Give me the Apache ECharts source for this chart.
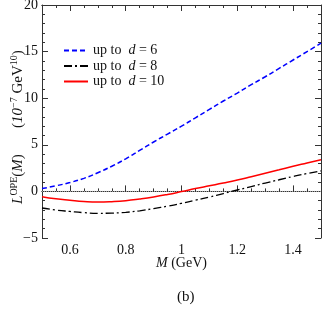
<!DOCTYPE html>
<html><head><meta charset="utf-8">
<script src="https://cdn.jsdelivr.net/npm/echarts@6/dist/echarts.min.js"></script>
<style>html,body{margin:0;padding:0;background:#fff}#c{width:326px;height:315px}</style>
</head><body><div id="c"></div>
<script>
const M = [0.5,0.55,0.6,0.65,0.7,0.75,0.8,0.85,0.9,0.95,1.0,1.05,1.1,1.15,1.2,1.25,1.3,1.35,1.4,1.45,1.5];
const upToD6 = [0.3,0.6,0.95,1.4,2.0,2.7,3.5,4.4,5.3,6.15,7.0,7.9,8.8,9.7,10.55,11.45,12.3,13.2,14.1,15.0,15.9];
const upToD8 = [-1.78,-2.0,-2.15,-2.28,-2.35,-2.33,-2.25,-2.08,-1.85,-1.58,-1.28,-0.95,-0.6,-0.23,0.15,0.52,0.9,1.25,1.6,1.92,2.2];
const upToD10 = [-0.57,-0.8,-0.95,-1.08,-1.14,-1.1,-1.0,-0.82,-0.6,-0.33,-0.02,0.3,0.6,0.9,1.22,1.58,1.95,2.32,2.7,3.05,3.4];
const seriesNames = ['up to d = 6','up to d = 8','up to d = 10'];
const xMajorTicks = [0.6,0.8,1.0,1.2,1.4];
const xRange = [0.5,1.5];
const yRange = [-5,20];
const zeroLine = [[0.5,0],[1.5,0]];

const font = '"Liberation Serif","DejaVu Serif",serif';
const zip = (xs, ys) => xs.map((x,i)=>[x,ys[i]]);
const axColor = '#333';

const xBase = {type:'value', min:xRange[0], max:xRange[1], splitLine:{show:false},
  axisLine:{show:true, lineStyle:{color:axColor,width:1}}};
const chart = echarts.init(document.getElementById('c'));
chart.setOption({
  animation:false,
  backgroundColor:'#fff',
  grid:{left:42,right:5,top:5,bottom:77,containLabel:false,outerBoundsMode:'none'},
  title:{text:'(b)', left:172, top:285, textStyle:{fontFamily:font,fontSize:15,fontWeight:'normal',color:'#111'}},
  legend:{
    left:58, top:38, orient:'vertical', itemWidth:24, itemHeight:10, itemGap:0.5,
    data:seriesNames,
    itemStyle:{opacity:0},
    formatter: n => { const p=n.split(' = '); return '{t|up to  }{i|d}{t| = '+p[1]+'}'; },
    textStyle:{fontFamily:font,fontSize:14,color:'#111',lineHeight:15,
      rich:{t:{fontFamily:font,fontSize:14,color:'#111',lineHeight:15}, i:{fontFamily:font,fontSize:14,fontStyle:'italic',color:'#111',lineHeight:15}}}
  },
  xAxis:[
    Object.assign({}, xBase, {position:'bottom', interval:0.05,
      axisTick:{show:true,inside:true,length:3,lineStyle:{color:axColor}}, axisLabel:{show:false}}),
    Object.assign({}, xBase, {position:'bottom',
      axisTick:{show:true,inside:true,length:6,customValues:xMajorTicks,lineStyle:{color:axColor}},
      axisLabel:{show:true,customValues:xMajorTicks,margin:5,fontFamily:font,fontSize:14,color:'#111',formatter:v=>String(+v.toFixed(1))},
      name:'{i|M} (GeV)', nameLocation:'middle', nameGap:18, nameMoveOverlap:false,
      nameTextStyle:{fontFamily:font,fontSize:14,color:'#111',rich:{i:{fontFamily:font,fontSize:14,fontStyle:'italic',color:'#111'}}}}),
    Object.assign({}, xBase, {position:'top', interval:0.05,
      axisTick:{show:true,inside:true,length:3,lineStyle:{color:axColor}}, axisLabel:{show:false}}),
    Object.assign({}, xBase, {position:'top',
      axisTick:{show:true,inside:true,length:6,customValues:xMajorTicks,lineStyle:{color:axColor}},
      axisLabel:{show:false}})
  ],
  yAxis:[
    {type:'value', min:yRange[0], max:yRange[1], interval:5, position:'left', splitLine:{show:false},
      axisLine:{show:true,lineStyle:{color:axColor}},
      axisTick:{show:true,inside:true,length:6,lineStyle:{color:axColor}},
      minorTick:{show:true,splitNumber:5,length:3,lineStyle:{color:axColor}},
      axisLabel:{margin:4,fontFamily:font,fontSize:14,color:'#111',formatter:v=> v<0 ? '\u2212'+(-v) : String(v)},
      name:'{i|L}{s|OPE}{t|(}{i|M}{t|)}       {t|(}{i|10}{s|\u22127}{t| GeV}{s|10}{t|)   }',
      nameLocation:'middle', nameGap:15, nameMoveOverlap:false,
      nameTextStyle:{fontFamily:font,fontSize:15,color:'#111',
        rich:{
          i:{fontFamily:font,fontSize:15,fontStyle:'italic',color:'#111'},
          t:{fontFamily:font,fontSize:15,color:'#111'},
          s:{fontFamily:font,fontSize:10,color:'#111',verticalAlign:'top',padding:[0,0,8,0]}
        }}},
    {type:'value', min:yRange[0], max:yRange[1], interval:5, position:'right', splitLine:{show:false},
      axisLine:{show:true,lineStyle:{color:axColor}},
      axisTick:{show:true,inside:true,length:6,lineStyle:{color:axColor}},
      minorTick:{show:true,splitNumber:5,length:3,lineStyle:{color:axColor}},
      axisLabel:{show:false}}
  ],
  series:[
    {name:'zero', type:'line', data:zeroLine, symbol:'none', silent:true,
      lineStyle:{color:'#aaa',width:1,type:'dotted'}, z:1},
    {name:seriesNames[0], type:'line', data:zip(M,upToD6), symbol:'none', smooth:true,
      color:'#0000ff', lineStyle:{color:'#0000ff',width:1.5,type:[5,3]}},
    {name:seriesNames[1], type:'line', data:zip(M,upToD8), symbol:'none', smooth:true,
      color:'#000', lineStyle:{color:'#000',width:1.3,type:[8,3,2,3]}},
    {name:seriesNames[2], type:'line', data:zip(M,upToD10), symbol:'none', smooth:true,
      color:'#ff0000', lineStyle:{color:'#ff0000',width:1.5}}
  ]
});
</script></body></html>
